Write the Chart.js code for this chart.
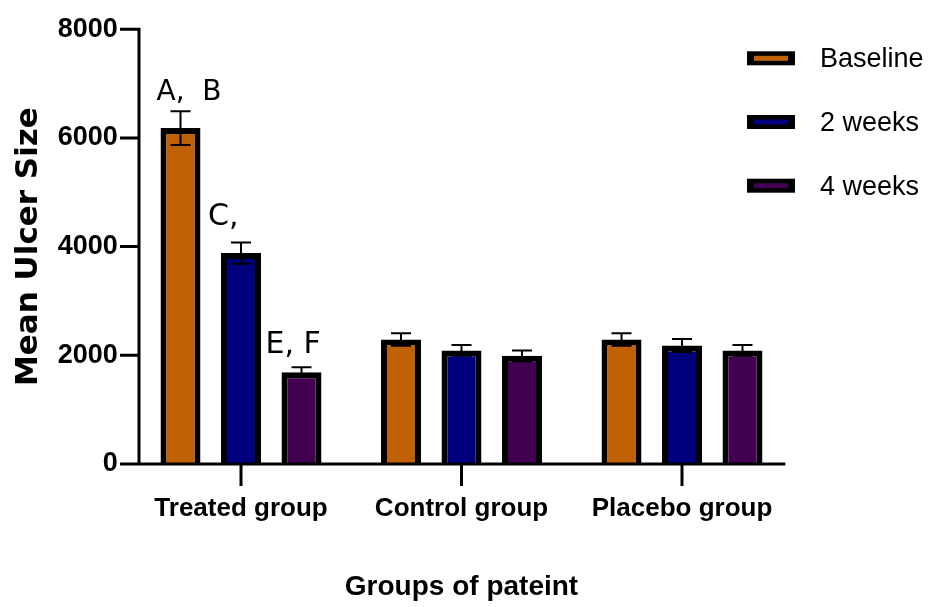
<!DOCTYPE html>
<html>
<head>
<meta charset="utf-8">
<title>Mean Ulcer Size by group</title>
<script src="https://cdn.jsdelivr.net/npm/chart.js@4.4.1/dist/chart.umd.min.js"></script>
<style>
  html, body { margin: 0; padding: 0; background: #ffffff; }
  #wrap { width: 932px; height: 607px; }
</style>
</head>
<body>
<div id="wrap"><canvas id="chart" width="932" height="607"></canvas></div>
<script>
// Groups on the x axis
const groups = ['Treated group', 'Control group', 'Placebo group'];
// Series names
const seriesNames = ['Baseline', '2 weeks', '4 weeks'];
// Mean ulcer size per group
const baseline = [6180, 2290, 2290];
const week2 = [3880, 2090, 2180];
const week4 = [1690, 1990, 2090];
// Standard error of the mean per group
const baselineSem = [310, 115, 115];
const week2Sem = [195, 100, 120];
const week4Sem = [90, 100, 100];
// Significance letters over the treated group bars
const treatedLetters = ['A,  B', 'C,', 'E, F'];
// Y axis ticks
const yTicks = [0, 2000, 4000, 6000, 8000];

const seriesColors = ['#bf6104', '#00007f', '#420050'];
const seriesValues = [baseline, week2, week4];
const seriesSem = [baselineSem, week2Sem, week4Sem];

// Prism-style axes: lines and outward tick marks
const axesPlugin = {
  id: 'prismAxes',
  afterDatasetsDraw(chart) {
    const { ctx, chartArea, scales: { x, y } } = chart;
    const axisX = chartArea.left + 8.25;
    const axisEnd = chartArea.right - 7;
    const y0 = y.getPixelForValue(0);
    ctx.save();
    ctx.strokeStyle = '#000';
    ctx.lineWidth = 3;
    ctx.lineCap = 'butt';
    ctx.beginPath();
    ctx.moveTo(axisX, y.getPixelForValue(yTicks[yTicks.length - 1]) - 1.5);
    ctx.lineTo(axisX, y0 + 1.5);
    ctx.moveTo(axisX - 1.5, y0);
    ctx.lineTo(axisEnd, y0);
    yTicks.forEach(v => {
      const py = y.getPixelForValue(v);
      ctx.moveTo(axisX - 19, py);
      ctx.lineTo(axisX, py);
    });
    groups.forEach((g, i) => {
      const px = x.getPixelForValue(i);
      ctx.moveTo(px, y0);
      ctx.lineTo(px, y0 + 22);
    });
    ctx.stroke();
    ctx.restore();
  }
};

// Error bars (mean ± SEM) drawn over each bar
const errorBarPlugin = {
  id: 'errorBars',
  afterDatasetsDraw(chart) {
    const { ctx, scales: { y } } = chart;
    ctx.save();
    ctx.strokeStyle = '#000';
    ctx.lineWidth = 2;
    chart.data.datasets.forEach((ds, di) => {
      const meta = chart.getDatasetMeta(di);
      meta.data.forEach((bar, j) => {
        const v = ds.data[j];
        const e = ds.sem[j];
        const top = y.getPixelForValue(v + e);
        const bot = y.getPixelForValue(v - e);
        const half = 10;
        ctx.beginPath();
        ctx.moveTo(bar.x, top);
        ctx.lineTo(bar.x, bot);
        ctx.moveTo(bar.x - half, top);
        ctx.lineTo(bar.x + half, top);
        ctx.moveTo(bar.x - half, bot);
        ctx.lineTo(bar.x + half, bot);
        ctx.stroke();
      });
    });
    ctx.restore();
  }
};

// Letters above the treated group bars
const lettersPlugin = {
  id: 'treatedLetters',
  afterDatasetsDraw(chart) {
    const { ctx, scales: { y } } = chart;
    const dx = [-24, -33, -36];
    const gap = [11, 18, 14];
    const size = [28, 30, 30];
    ctx.save();
    ctx.fillStyle = '#000';
    ctx.textAlign = 'left';
    ctx.textBaseline = 'alphabetic';
    chart.data.datasets.forEach((ds, di) => {
      const bar = chart.getDatasetMeta(di).data[0];
      const top = y.getPixelForValue(ds.data[0] + ds.sem[0]);
      ctx.font = size[di] + 'px "DejaVu Sans"';
      ctx.fillText(treatedLetters[di], bar.x + dx[di], top - gap[di]);
    });
    ctx.restore();
  }
};

// Legend: black-framed swatches with series names
const legendPlugin = {
  id: 'sideLegend',
  afterDraw(chart) {
    const { ctx } = chart;
    const left = 747, firstY = 58.3, step = 63.7;
    ctx.save();
    chart.data.datasets.forEach((ds, i) => {
      const cy = firstY + i * step;
      ctx.fillStyle = '#000';
      ctx.fillRect(left, cy - 7, 48, 14);
      ctx.fillStyle = ds.backgroundColor;
      ctx.fillRect(left + 7, cy - 2.5, 34, 5);
      ctx.fillStyle = '#000';
      ctx.font = '27px "Liberation Sans"';
      ctx.textAlign = 'left';
      ctx.textBaseline = 'alphabetic';
      ctx.fillText(ds.label, left + 73, cy + 9);
    });
    ctx.restore();
  }
};

new Chart(document.getElementById('chart'), {
  type: 'bar',
  data: {
    labels: groups,
    datasets: seriesNames.map((name, i) => ({
      label: name,
      data: seriesValues[i],
      sem: seriesSem[i],
      backgroundColor: seriesColors[i],
      borderColor: '#000',
      borderWidth: 6,
      borderSkipped: 'start',
      categoryPercentage: 0.823,
      barPercentage: 0.661
    }))
  },
  options: {
    responsive: false,
    animation: false,
    layout: { padding: { top: 21.5, right: 139.75, bottom: 0, left: 0 } },
    plugins: {
      legend: { display: false },
      tooltip: { enabled: false }
    },
    scales: {
      x: {
        grid: { display: false, drawTicks: false },
        border: { display: false },
        ticks: {
          color: '#000',
          padding: 29,
          font: { family: '"Liberation Sans", Arial, sans-serif', weight: 'bold', size: 26 }
        },
        title: {
          display: true,
          text: 'Groups of pateint',
          color: '#000',
          padding: { top: 0, bottom: 3 },
          font: { family: '"Liberation Sans", Arial, sans-serif', weight: 'bold', size: 28 }
        },
        afterFit(scale) { scale.height = 143; }
      },
      y: {
        min: 0,
        max: 8000,
        grid: { display: false, drawTicks: false },
        border: { display: false },
        afterBuildTicks(scale) { scale.ticks = yTicks.map(v => ({ value: v })); },
        ticks: {
          color: '#000',
          padding: 13,
          callback: (value) => String(value),
          font: { family: '"Liberation Sans", Arial, sans-serif', weight: 'bold', size: 27 }
        },
        title: {
          display: true,
          text: 'Mean Ulcer Size',
          color: '#000',
          padding: { top: 10, bottom: 0 },
          font: { family: '"DejaVu Sans", sans-serif', weight: 'bold', size: 31 }
        },
        afterFit(scale) { scale.width = 130.75; }
      }
    }
  },
  plugins: [axesPlugin, errorBarPlugin, lettersPlugin, legendPlugin]
});
</script>
</body>
</html>
